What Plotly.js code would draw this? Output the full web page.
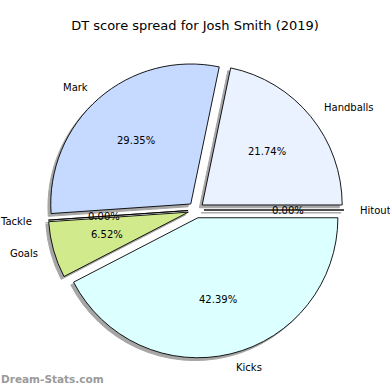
<!DOCTYPE html>
<html>
<head>
<meta charset="utf-8">
<script src="https://cdn.plot.ly/plotly-3.0.1.min.js"></script>
<style>html,body{margin:0;padding:0;background:#fff;}#chart{width:390px;height:390px;}</style>
</head>
<body>
<div id="chart"></div>
<script>
const titleText = 'DT score spread for Josh Smith (2019)';
const labels = ['Handballs', 'Mark', 'Tackle', 'Goals', 'Kicks', 'Hitout'];
const values = [20, 27, 0, 6, 39, 0];
const colors = ['#EAF1FF', '#C6D9FF', '#F0C8C8', '#D0EA8C', '#DCFFFF', '#E0E0E0'];
const watermark = 'Dream-Stats.com';

const W = 390, H = 390;
const CX = 196, CY = 210, R = 140, PULL = 0.057, SHADOW = 2.8;
const half = R * (1 + PULL);

function dom(cx, cy) {
  return {
    x: [(cx - half) / W, (cx + half) / W],
    y: [1 - (cy + half) / H, 1 - (cy - half) / H]
  };
}

const pulls = values.map(() => PULL);
const total = values.reduce((a, b) => a + b, 0);
// first wedge starts at 3 o'clock and runs counterclockwise
const rot = 90 - values[0] / total * 360;

const shadow = {
  type: 'pie', labels: labels, values: values, sort: false,
  direction: 'counterclockwise', rotation: rot, pull: pulls,
  domain: dom(CX - SHADOW, CY + SHADOW),
  marker: {colors: values.map(() => '#A6A6A6'), line: {color: '#A6A6A6', width: 1}},
  textinfo: 'none', hoverinfo: 'skip', showlegend: false
};
const main = {
  type: 'pie', labels: labels, values: values, sort: false,
  direction: 'counterclockwise', rotation: rot, pull: pulls,
  domain: dom(CX, CY),
  marker: {colors: colors, line: {color: '#000000', width: 0.9}},
  textinfo: 'none', hoverinfo: 'skip', showlegend: false
};

const annotations = [];
let cum = 0;
values.forEach((v, i) => {
  const a0 = cum / total * 2 * Math.PI;
  cum += v;
  const a1 = cum / total * 2 * Math.PI;
  const mid = (a0 + a1) / 2;
  const c = Math.cos(mid), s = Math.sin(mid);
  const ex = CX + PULL * R * c, ey = CY - PULL * R * s;
  const lx = ex + 1.1 * R * c, ly = ey - 1.1 * R * s;
  const px = ex + 0.6 * R * c, py = ey - 0.6 * R * s;
  annotations.push({
    x: lx / W, y: 1 - ly / H, xref: 'paper', yref: 'paper',
    text: labels[i], showarrow: false,
    xanchor: c > 0 ? 'left' : 'right', yanchor: 'middle',
    font: {family: 'DejaVu Sans', size: 10, color: '#000'}
  });
  annotations.push({
    x: px / W, y: 1 - py / H, xref: 'paper', yref: 'paper',
    text: (v / total * 100).toFixed(2) + '%', showarrow: false,
    xanchor: 'center', yanchor: 'middle',
    font: {family: 'DejaVu Sans', size: 10, color: '#000'}
  });
});
annotations.push({
  x: 0, y: 1 - 379 / H, xref: 'paper', yref: 'paper', text: '<b>' + watermark + '</b>',
  showarrow: false, xanchor: 'left', yanchor: 'middle', xshift: -1,
  font: {family: 'DejaVu Sans', size: 10.5, color: '#9a9a9a'}
});

const layout = {
  width: W, height: H,
  margin: {l: 0, r: 0, t: 0, b: 0},
  paper_bgcolor: '#ffffff',
  title: {text: titleText, x: 0.5, xanchor: 'center', y: 1 - 25 / H, yanchor: 'middle',
          font: {family: 'DejaVu Sans', size: 13, color: '#000'}},
  annotations: annotations,
  showlegend: false
};

Plotly.newPlot('chart', [shadow, main], layout, {displayModeBar: false, staticPlot: true});
</script>
</body>
</html>
